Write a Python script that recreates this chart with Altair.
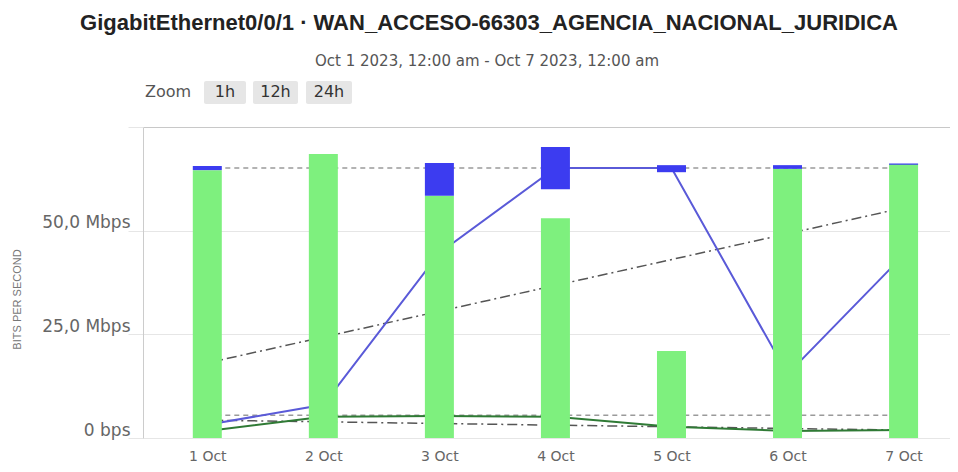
import altair as alt
import pandas as pd

# ---------------- data (Mbps) ----------------
days = [1, 2, 3, 4, 5, 6, 7]
green_bar = [64.6, 68.5, 58.4, 53.0, 21.0, 64.9, 66.1]
range_days = [1, 3, 4, 5, 6, 7]
blue_hi = [65.6, 66.3, 70.2, 65.8, 65.8, 66.2]
blue_lo = [64.6, 58.4, 60.0, 64.1, 64.9, 65.9]
blue_line = [3.2, 8.0, 44.6, 65.1, 65.1, 15.4, 44.1]
green_line = [1.7, 5.1, 5.3, 5.1, 2.7, 1.7, 1.9]
ref_days = [1, 7]
blue_max = [65.1, 65.1]
green_max = [5.5, 5.5]
blue_trend = [18.1, 55.5]
green_trend = [4.3, 1.9]
y_ticks = [0, 25, 50, 75]
title_text = "GigabitEthernet0/0/1 · WAN_ACCESO-66303_AGENCIA_NACIONAL_JURIDICA"
subtitle_text = "Oct 1 2023, 12:00 am - Oct 7 2023, 12:00 am"
zoom_label = "Zoom"
zoom_buttons = ["1h", "12h", "24h"]
y_title = "BITS PER SECOND"

FONT = "DejaVu Sans"

x_scale = alt.Scale(domain=[0.489, 7.357], nice=False, zero=False)
y_scale = alt.Scale(domain=[0, 75], nice=False, zero=True)

x_axis = alt.Axis(
    values=days, labelExpr="datum.value + ' Oct'", grid=False, ticks=False,
    tickSize=0, domain=False, labelPadding=22, labelBaseline="alphabetic",
    labelFont=FONT, labelFontSize=14, labelColor="#666666", title=None,
    labelAngle=0,
)
y_axis = alt.Axis(
    values=y_ticks,
    labelExpr="datum.value == 0 ? '0 bps' : datum.value >= 75 ? '' : replace(format(datum.value, '.1f'), '.', ',') + ' Mbps'",
    grid=True, gridColor={"expr": "datum.value >= 75 ? '#c8c8c8' : '#e6e6e6'"},
    gridWidth=1, ticks=True, tickSize=15, tickColor="#e6e6e6",
    domain=True, domainColor="#cccccc", labelPadding=-2,
    labelBaseline="alphabetic", labelOffset=-3, labelAlign="right",
    labelFont=FONT, labelFontSize=17, labelColor="#666666",
    title=y_title, titleFont="Liberation Sans", titleFontSize=11,
    titleFontWeight="normal", titleColor="#777777", titleAngle=270,
    titleX=-126, titleY=172, titleAlign="center", titleBaseline="middle",
)


def X(field="day"):
    return alt.X(f"{field}:Q", scale=x_scale, axis=x_axis)


def Y(field="v"):
    return alt.Y(f"{field}:Q", scale=y_scale, axis=y_axis)


def line_layer(xs, ys, **mark):
    df = pd.DataFrame({"day": xs, "v": ys})
    return alt.Chart(df).mark_line(**mark).encode(x=X(), y=Y())


layers = [
    line_layer(ref_days, blue_max, color="#9a9a9a", strokeWidth=1.5, strokeDash=[5, 4]),
    line_layer(ref_days, green_max, color="#9a9a9a", strokeWidth=1.5, strokeDash=[5, 4]),
    line_layer(ref_days, blue_trend, color="#555555", strokeWidth=1.5, strokeDash=[10, 4, 2, 4]),
    line_layer(ref_days, green_trend, color="#555555", strokeWidth=1.5, strokeDash=[10, 4, 2, 4]),
    line_layer(days, green_line, color="#2f7a35", strokeWidth=2),
    line_layer(days, blue_line, color="#5a5ad8", strokeWidth=2),
]

bars = alt.Chart(pd.DataFrame({"day": days, "v": green_bar})).mark_bar(
    size=29, color="#7ef07e"
).encode(x=X(), y=Y())
layers.append(bars)

ranges = alt.Chart(pd.DataFrame({"day": range_days, "v": blue_hi, "lo": blue_lo})).mark_bar(
    size=29, color="#3c3cf0"
).encode(x=X(), y=Y(), y2="lo:Q")
layers.append(ranges)

# ---------------- header texts (title, subtitle, zoom row) ----------------
def text_layer(txt, x, y, **mark):
    return alt.Chart(pd.DataFrame({"t": [txt]})).mark_text(**mark).encode(
        text="t:N", x=alt.value(x), y=alt.value(y)
    )

layers.append(text_layer(title_text, 346, -97, font="Liberation Sans", fontSize=22,
                         fontWeight="bold", color="#222222", align="center",
                         baseline="alphabetic"))
layers.append(text_layer(subtitle_text, 344, -61, font=FONT, fontSize=15,
                         color="#555555", align="center", baseline="alphabetic"))
layers.append(text_layer(zoom_label, 2, -30, font=FONT, fontSize=16,
                         color="#555555", align="left", baseline="alphabetic"))

btn_boxes = [(61, 103), (110, 155), (163, 209)]
for label, (x0, x1) in zip(zoom_buttons, btn_boxes):
    rect = alt.Chart(pd.DataFrame({"t": [label]})).mark_rect(
        color="#e6e6e6", cornerRadius=2
    ).encode(x=alt.value(x0), x2=alt.value(x1), y=alt.value(-46), y2=alt.value(-23))
    layers.append(rect)
    layers.append(text_layer(label, (x0 + x1) / 2, -30, font=FONT, fontSize=16,
                             color="#333333", align="center", baseline="alphabetic"))

chart = alt.layer(*layers).properties(
    width=807, height=311,
    padding={"left": 135, "top": 119, "right": 0, "bottom": 26},
    autosize=alt.AutoSizeParams(type="none"),
    background="white",
).configure_view(stroke=None)

chart.save("out.html", embed_options={"renderer": "svg", "actions": False})
